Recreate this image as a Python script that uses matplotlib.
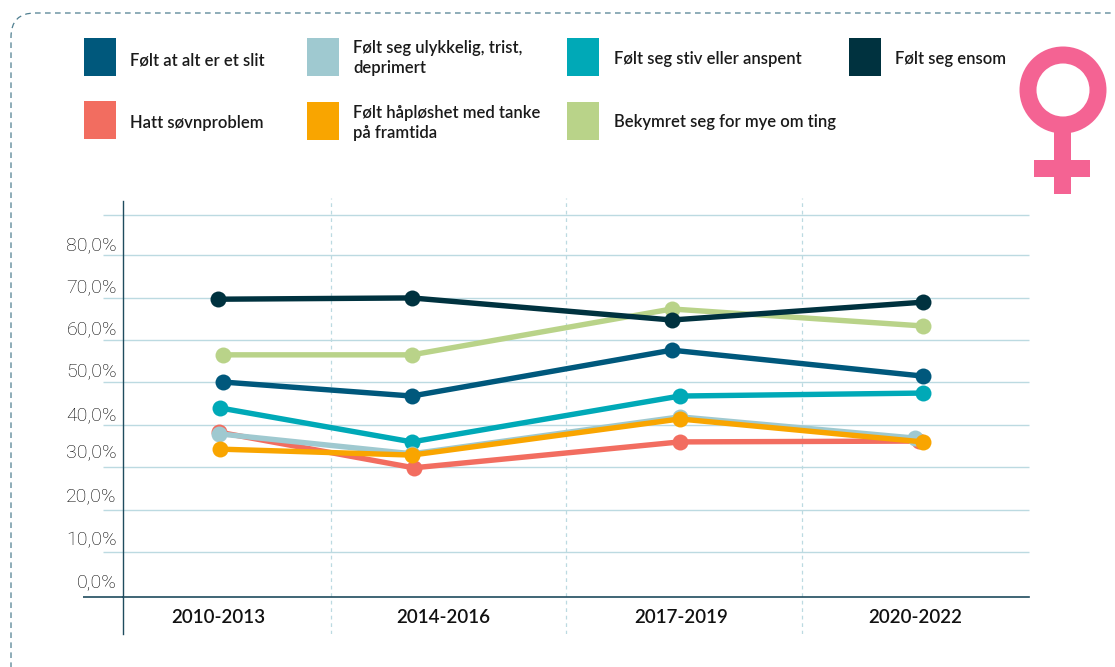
import matplotlib
matplotlib.use('Agg')
import matplotlib.pyplot as plt
from matplotlib.patches import Rectangle, FancyBboxPatch, Annulus

## Data
periods = ['2010-2013', '2014-2016', '2017-2019', '2020-2022']
period_pos = [0.52, 1.476, 2.487, 3.48]

x_dark = [0.52, 1.344, 2.448, 3.514]
ensom = [69.6, 69.9, 64.7, 68.9]
x_green = [0.541, 1.344, 2.448, 3.514]
bekymret = [56.5, 56.5, 67.3, 63.3]
x_blue = [0.541, 1.344, 2.448, 3.514]
slit = [50.1, 46.8, 57.6, 51.5]
x_teal = [0.529, 1.344, 2.482, 3.514]
anspent = [44.0, 36.0, 46.8, 47.5]
x_red = [0.524, 1.352, 2.482, 3.497]
sovn = [38.3, 29.9, 36.0, 36.2]
x_pale = [0.524, 1.344, 2.482, 3.48]
ulykkelig = [37.9, 33.2, 41.9, 36.9]
x_orange = [0.529, 1.344, 2.482, 3.514]
haploshet = [34.3, 32.9, 41.4, 36.0]

grid_vals = [10, 20, 30, 40, 50, 60, 70, 80, 89.5]
tick_vals = [3.4, 13.3, 23.7, 34.0, 42.7, 53.1, 63.0, 72.9, 82.8]
tick_labels = ['0,0%', '10,0%', '20,0%', '30,0%', '40,0%', '50,0%', '60,0%', '70,0%', '80,0%']

c_blue = '#00587c'
c_pale = '#9fc9d0'
c_teal = '#00a9b7'
c_dark = '#00323f'
c_red = '#f26d60'
c_orange = '#f9a500'
c_green = '#b9d389'
c_pink = '#f46393'
c_grid = '#bcdae1'
c_axis = '#1f4c5e'

W, H = 1115, 667
plt.rcParams['font.family'] = ['Lato', 'DejaVu Sans']
fig = plt.figure(figsize=(W / 100, H / 100), dpi=100)

## Background layer in pixels: border, legend, symbol
bg = fig.add_axes([0, 0, 1, 1])
bg.set_xlim(0, W)
bg.set_ylim(H, 0)
bg.axis('off')

bg.add_patch(FancyBboxPatch((11, 13), 1200, 800, boxstyle='round,pad=0,rounding_size=24',
                            fill=False, ec='#4f7f90', lw=0.9, ls=(0, (4.5, 3.5))))

legend = [
    (84, 38, c_blue, 130, 60, 'Følt at alt er et slit'),
    (307, 38, c_pale, 353, 58, 'Følt seg ulykkelig, trist,\ndeprimert'),
    (567, 38, c_teal, 614, 59, 'Følt seg stiv eller anspent'),
    (849, 38, c_dark, 895, 59, 'Følt seg ensom'),
    (84, 101, c_red, 130, 123, 'Hatt søvnproblem'),
    (307, 102, c_orange, 353, 123, 'Følt håpløshet med tanke\npå framtida'),
    (567, 102, c_green, 614, 122, 'Bekymret seg for mye om ting'),
]
for sx, sy, col, tx, ty, label in legend:
    bg.add_patch(Rectangle((sx, sy), 31.5, 38, fc=col, ec='none'))
    bg.text(tx, ty, label, fontsize=12, fontweight='semibold', color='#1a1a1a',
            va='center', ha='left', linespacing=1.25)

bg.add_patch(Annulus((1063, 90), 43.5, 17, fc=c_pink, ec='none'))
bg.add_patch(Rectangle((1054, 130), 17, 64, fc=c_pink, ec='none'))
bg.add_patch(Rectangle((1034, 160), 56, 17, fc=c_pink, ec='none'))

## Chart
ax = fig.add_axes([123 / W, (H - 634) / H, (1029 - 123) / W, (634 - 198) / H])
ax.patch.set_alpha(0)
ax.set_xlim(0.117, 3.965)
ax.set_ylim(-9.23, 93.43)

ax.hlines(grid_vals, 0.032, 3.965, color=c_grid, lw=1, clip_on=False, zorder=1)
ax.vlines([1, 2, 3], -9.23, 93.43, color=c_grid, lw=0.9, ls=(0, (3, 3)), zorder=1)
ax.hlines([-0.45], -0.053, 0.117, color=c_axis, lw=1.2, clip_on=False, zorder=2)

for xs, ys, col in [(x_green, bekymret, c_green), (x_blue, slit, c_blue),
                    (x_teal, anspent, c_teal), (x_red, sovn, c_red),
                    (x_pale, ulykkelig, c_pale), (x_orange, haploshet, c_orange),
                    (x_dark, ensom, c_dark)]:
    ax.plot(xs, ys, color=col, lw=3.9, marker='o', ms=11.5, mew=0, zorder=3, clip_on=False)

for s in ['top', 'right']:
    ax.spines[s].set_visible(False)
ax.spines['bottom'].set_position(('data', -0.45))
ax.spines['bottom'].set_color(c_axis)
ax.spines['bottom'].set_linewidth(1.2)
ax.spines['left'].set_color(c_axis)
ax.spines['left'].set_linewidth(1.0)
ax.spines['left'].set_bounds(-9.23, 92.72)

ax.set_yticks(tick_vals)
ax.set_yticklabels(tick_labels, fontsize=14, family=['Roboto', 'DejaVu Sans'], fontweight='light', color='#000000')
ax.tick_params(axis='y', length=0, pad=4.5)
ax.set_xticks(period_pos)
ax.set_xticklabels(periods, fontsize=13.5, fontweight='semibold', color='#111111')
ax.tick_params(axis='x', length=0, pad=9)

fig.savefig('out.png', dpi=100)
